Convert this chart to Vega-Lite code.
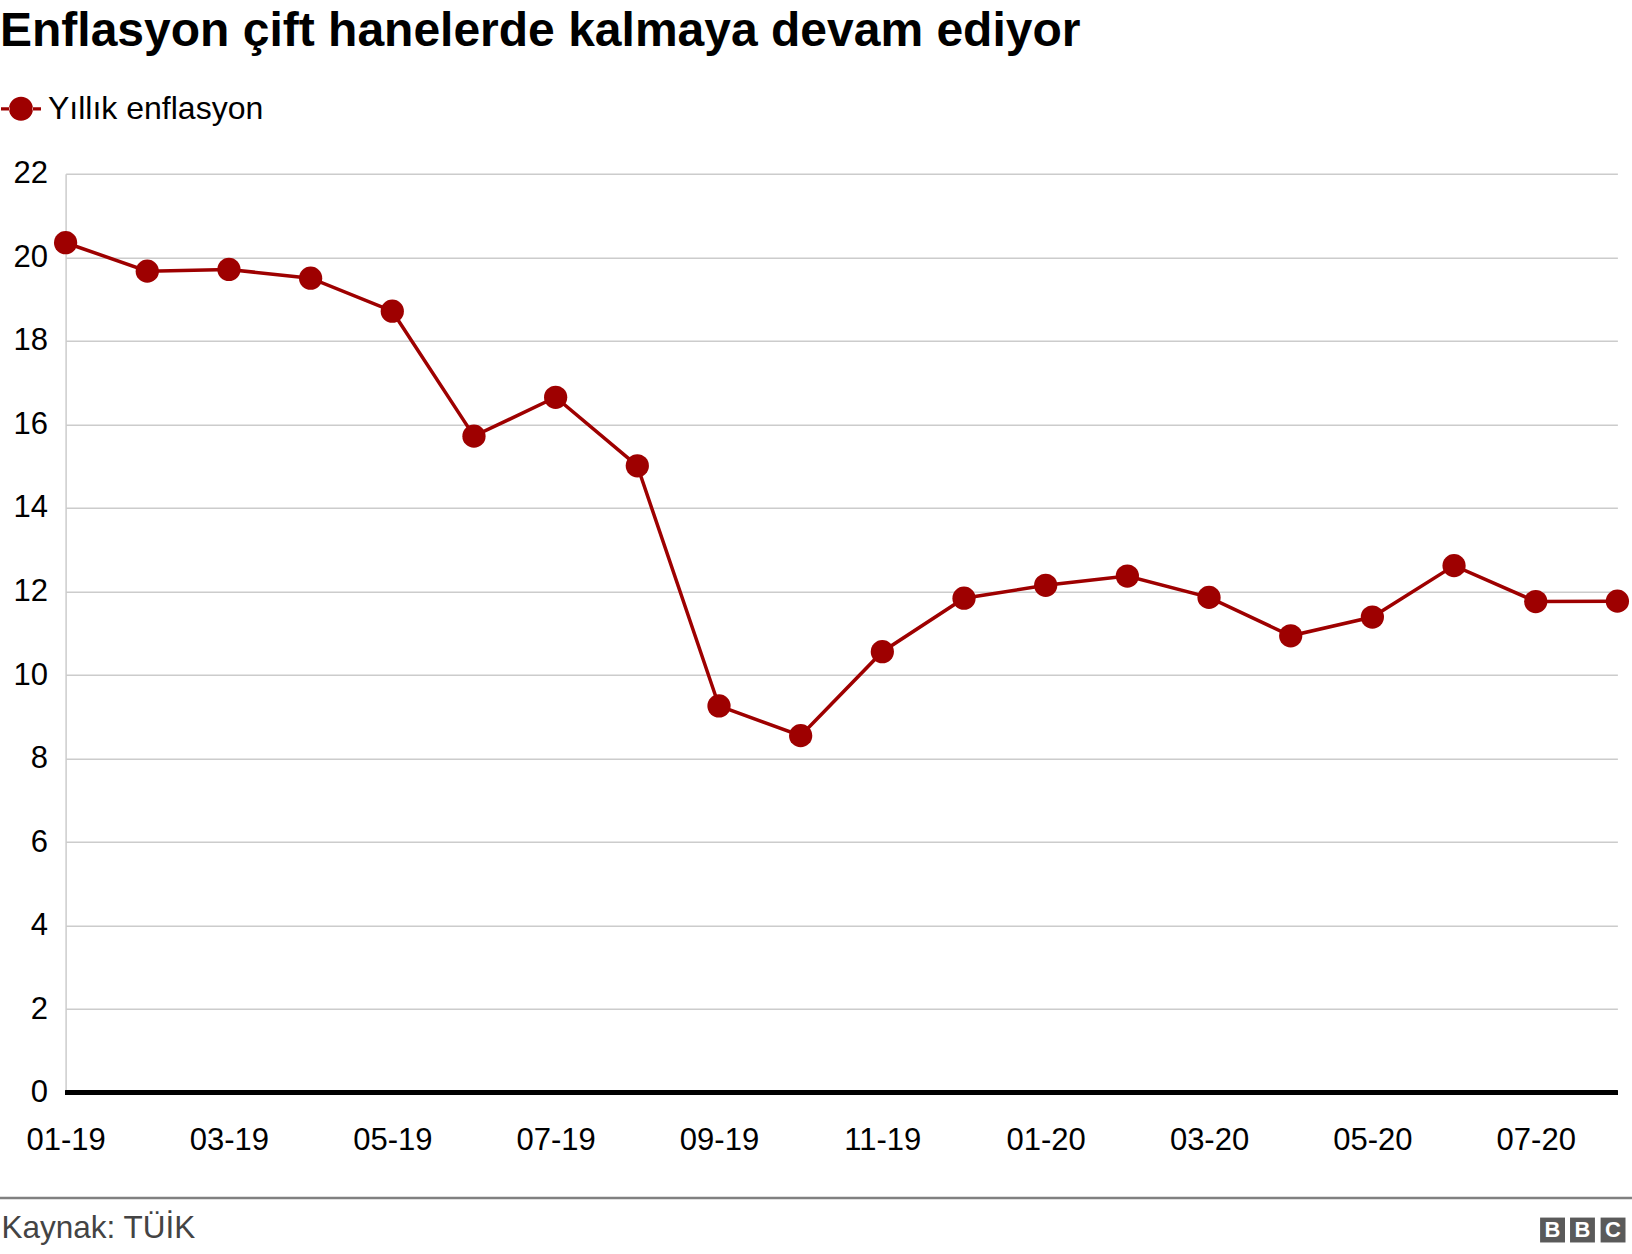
{
  "$schema": "https://vega.github.io/schema/vega-lite/v6.json",
  "width": 1551.8,
  "height": 919,
  "autosize": {"type": "none"},
  "padding": {"left": 65.6, "top": 173.8, "right": 14.6, "bottom": 161.2},
  "background": "white",
  "config": {"font": "Liberation Sans", "view": {"stroke": null}},
  "title": {
    "text": "Enflasyon çift hanelerde kalmaya devam ediyor",
    "anchor": "start",
    "frame": "group",
    "dx": -65.6,
    "dy": 7,
    "fontSize": 48,
    "fontWeight": "bold",
    "color": "#000000",
    "baseline": "alphabetic",
    "offset": 1
  },
  "datasets": {
    "enflasyon": [
      {"ay": "01-19", "deger": 20.35, "seri": "Yıllık enflasyon"},
      {"ay": "02-19", "deger": 19.67, "seri": "Yıllık enflasyon"},
      {"ay": "03-19", "deger": 19.71, "seri": "Yıllık enflasyon"},
      {"ay": "04-19", "deger": 19.50, "seri": "Yıllık enflasyon"},
      {"ay": "05-19", "deger": 18.71, "seri": "Yıllık enflasyon"},
      {"ay": "06-19", "deger": 15.72, "seri": "Yıllık enflasyon"},
      {"ay": "07-19", "deger": 16.65, "seri": "Yıllık enflasyon"},
      {"ay": "08-19", "deger": 15.01, "seri": "Yıllık enflasyon"},
      {"ay": "09-19", "deger": 9.26, "seri": "Yıllık enflasyon"},
      {"ay": "10-19", "deger": 8.55, "seri": "Yıllık enflasyon"},
      {"ay": "11-19", "deger": 10.56, "seri": "Yıllık enflasyon"},
      {"ay": "12-19", "deger": 11.84, "seri": "Yıllık enflasyon"},
      {"ay": "01-20", "deger": 12.15, "seri": "Yıllık enflasyon"},
      {"ay": "02-20", "deger": 12.37, "seri": "Yıllık enflasyon"},
      {"ay": "03-20", "deger": 11.86, "seri": "Yıllık enflasyon"},
      {"ay": "04-20", "deger": 10.94, "seri": "Yıllık enflasyon"},
      {"ay": "05-20", "deger": 11.39, "seri": "Yıllık enflasyon"},
      {"ay": "06-20", "deger": 12.62, "seri": "Yıllık enflasyon"},
      {"ay": "07-20", "deger": 11.76, "seri": "Yıllık enflasyon"},
      {"ay": "08-20", "deger": 11.77, "seri": "Yıllık enflasyon"}
    ]
  },
  "resolve": {"scale": {"x": "independent"}, "axis": {"x": "independent"}},
  "layer": [
    {
      "data": {"name": "enflasyon"},
      "encoding": {
        "x": {
          "field": "ay",
          "type": "ordinal",
          "sort": null,
          "scale": {"type": "point", "padding": 0},
          "axis": {
            "values": ["01-19", "03-19", "05-19", "07-19", "09-19", "11-19", "01-20", "03-20", "05-20", "07-20"],
            "labelAngle": 0,
            "labelFontSize": 31,
            "labelColor": "#000000",
            "labelPadding": 33,
            "ticks": false,
            "domain": false,
            "grid": false,
            "title": "Kaynak: TÜİK",
            "titleFontSize": 31.5,
            "titleFontWeight": "normal",
            "titleColor": "#444444",
            "titleAnchor": "start",
            "titleAlign": "left",
            "titleBaseline": "alphabetic",
            "titleX": -64.6,
            "titleY": 145
          }
        },
        "y": {
          "field": "deger",
          "type": "quantitative",
          "scale": {"domain": [0, 22], "nice": false, "zero": true},
          "axis": {
            "values": [0, 2, 4, 6, 8, 10, 12, 14, 16, 18, 20, 22],
            "title": null,
            "labelFontSize": 31,
            "labelColor": "#000000",
            "labelPadding": 18,
            "labelDy": 2,
            "ticks": false,
            "grid": true,
            "gridColor": "#cccccc",
            "gridWidth": 1.5,
            "domain": true,
            "domainColor": "#cccccc",
            "domainWidth": 1.5
          }
        }
      },
      "layer": [
        {
          "mark": {"type": "rule", "color": "#000000", "strokeWidth": 4},
          "encoding": {"y": {"datum": 0, "type": "quantitative"}, "x": null}
        },
        {
          "mark": {"type": "line", "strokeWidth": 3.5, "color": "#9e0000"},
          "encoding": {}
        },
        {
          "mark": {"type": "point", "filled": true, "size": 540, "opacity": 1},
          "encoding": {
            "color": {
              "field": "seri",
              "type": "nominal",
              "scale": {"range": ["#9e0000"]},
              "legend": {
                "title": null,
                "orient": "none",
                "legendX": -65.6,
                "legendY": -86,
                "padding": 0,
                "labelFontSize": 32,
                "labelColor": "#000000",
                "labelOffset": 6,
                "labelLimit": 500,
                "symbolType": "M-1,-0.08H-0.57V0.08H-1Z M0.57,-0.08H1V0.08H0.57Z M-0.6,0A0.6,0.6 0 1,0 0.6,0A0.6,0.6 0 1,0 -0.6,0Z",
                "symbolSize": 1600,
                "encode": {
                  "symbols": {"update": {
                    "shape": {"value": "M-1,-0.08H-0.57V0.08H-1Z M0.57,-0.08H1V0.08H0.57Z M-0.6,0A0.6,0.6 0 1,0 0.6,0A0.6,0.6 0 1,0 -0.6,0Z"},
                    "size": {"value": 1600},
                    "fill": {"value": "#9e0000"},
                    "fillOpacity": {"value": 1},
                    "strokeWidth": {"value": 0},
                    "opacity": {"value": 1}
                  }}
                }
              }
            }
          }
        }
      ]
    },
    {
      "data": {"values": [{}]},
      "layer": [
        {
          "mark": {"type": "rule", "color": "#808080", "strokeWidth": 2.5},
          "encoding": {
            "x": {"datum": -0.0423, "type": "quantitative", "scale": {"domain": [0, 1]}, "axis": null},
            "x2": {"datum": 1.0094},
            "y": {"datum": -2.519, "type": "quantitative", "scale": {"domain": [0, 22], "nice": false}}
          }
        },
        {
          "mark": {"type": "point", "shape": "square", "filled": true, "size": 620, "color": "#5a5a5a", "opacity": 1},
          "encoding": {
            "x": {"datum": 0.9582, "type": "quantitative", "scale": {"domain": [0, 1]}, "axis": null},
            "y": {"datum": -3.285, "type": "quantitative", "scale": {"domain": [0, 22], "nice": false}}
          }
        },
        {
          "mark": {"type": "point", "shape": "square", "filled": true, "size": 620, "color": "#5a5a5a", "opacity": 1},
          "encoding": {
            "x": {"datum": 0.9775, "type": "quantitative", "scale": {"domain": [0, 1]}, "axis": null},
            "y": {"datum": -3.285, "type": "quantitative", "scale": {"domain": [0, 22], "nice": false}}
          }
        },
        {
          "mark": {"type": "point", "shape": "square", "filled": true, "size": 620, "color": "#5a5a5a", "opacity": 1},
          "encoding": {
            "x": {"datum": 0.9972, "type": "quantitative", "scale": {"domain": [0, 1]}, "axis": null},
            "y": {"datum": -3.285, "type": "quantitative", "scale": {"domain": [0, 22], "nice": false}}
          }
        },
        {
          "mark": {"type": "text", "text": "B", "color": "#ffffff", "fontWeight": "bold", "fontSize": 22, "baseline": "middle", "align": "center"},
          "encoding": {
            "x": {"datum": 0.9582, "type": "quantitative", "scale": {"domain": [0, 1]}, "axis": null},
            "y": {"datum": -3.285, "type": "quantitative", "scale": {"domain": [0, 22], "nice": false}}
          }
        },
        {
          "mark": {"type": "text", "text": "B", "color": "#ffffff", "fontWeight": "bold", "fontSize": 22, "baseline": "middle", "align": "center"},
          "encoding": {
            "x": {"datum": 0.9775, "type": "quantitative", "scale": {"domain": [0, 1]}, "axis": null},
            "y": {"datum": -3.285, "type": "quantitative", "scale": {"domain": [0, 22], "nice": false}}
          }
        },
        {
          "mark": {"type": "text", "text": "C", "color": "#ffffff", "fontWeight": "bold", "fontSize": 22, "baseline": "middle", "align": "center"},
          "encoding": {
            "x": {"datum": 0.9972, "type": "quantitative", "scale": {"domain": [0, 1]}, "axis": null},
            "y": {"datum": -3.285, "type": "quantitative", "scale": {"domain": [0, 22], "nice": false}}
          }
        }
      ]
    }
  ]
}
